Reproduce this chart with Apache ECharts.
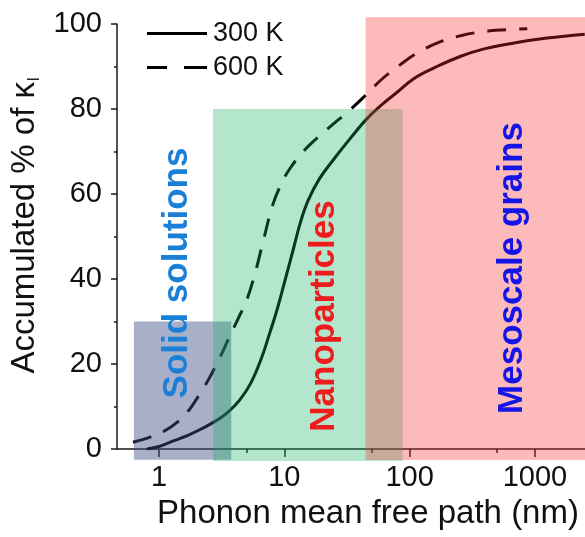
<!DOCTYPE html>
<html>
<head>
<meta charset="utf-8">
<script src="https://cdn.jsdelivr.net/npm/echarts@6/dist/echarts.min.js"></script>
<style>
html,body{margin:0;padding:0;background:#fff;}
#c{width:585px;height:537px;}
</style>
</head>
<body>
<div id="c"></div>
<script>
// ---- data ----
const mfp300 = [0.80, 1.0, 1.3, 1.7, 2.2, 2.8, 3.5, 4.4, 5.4, 6.5, 7.6, 8.8, 10.2, 11.8, 13.5, 15.5, 19, 25, 33, 45, 60, 80, 110, 160, 250, 400, 700, 1250, 2500];
const acc300 = [0, 0.6, 1.9, 3.2, 4.8, 6.5, 8.5, 11.5, 15.5, 21, 27, 33, 40, 47, 53.5, 58.5, 63.5, 68.3, 72.8, 77.5, 81, 84, 87.3, 89.8, 92.3, 94.2, 95.6, 96.7, 97.6];
const mfp600 = [0.62, 0.85, 1.1, 1.4, 1.75, 2.1, 2.5, 3.0, 3.6, 4.3, 5.0, 5.8, 6.8, 8.1, 9.5, 11.1, 14, 18, 24, 32, 42, 60, 85, 120, 175, 260, 364, 550, 870];
const acc600 = [1.6, 2.8, 4.2, 6.3, 9.3, 12.8, 16.5, 21, 26, 30.8, 35, 41, 49, 57.5, 62.5, 66, 69.8, 73, 76.2, 79.3, 82.5, 87, 90.5, 93.5, 95.8, 97.3, 98.1, 98.6, 98.9];
const seriesNames = ['300 K', '600 K'];
// shaded regimes: [x from, x to, y from, y to]
const regionNames = ['Solid solutions', 'Nanoparticles', 'Mesoscale grains'];
const regionX0 = [0.63, 2.7, 44.5];
const regionX1 = [3.77, 88, 4000];
const regionY0 = [-2.5, -2.8, -2.6];
const regionY1 = [30, 80, 101.6];
const xTickLabels = [1, 10, 100, 1000];
const xMinorTicks = [5, 50, 500];
const yTicks = [0, 20, 40, 60, 80, 100];
const xMin = 0.462, xMax = 2512;

const FONT = '"Liberation Sans", Arial, Helvetica, sans-serif';
const regionColors = ['rgba(62,77,133,0.45)', 'rgba(20,177,96,0.32)', 'rgba(250,40,40,0.32)'];
const labelColors = ['#1a7fd6', '#ee1c1c', '#1414e6'];
const dashPattern = [19, 13];

const chart = echarts.init(document.getElementById('c'), null, {renderer: 'canvas'});

const pairs = (xs, ys) => xs.map((x, i) => [x, ys[i]]);
const regionData = regionX0.map((x0, i) => [x0, regionX1[i], regionY0[i], regionY1[i], i]);

const axisColor = '#1a1a1a';

chart.setOption({
  animation: false,
  backgroundColor: '#fff',
  grid: {left: 117, right: 0, top: 24, bottom: 88, containLabel: false},
  legend: {
    data: [
      {name: seriesNames[0], icon: 'path://M0,0H60V3H0Z', itemStyle: {color: '#000', opacity: 1}},
      {name: seriesNames[1], icon: 'path://M0,0H20V3H0Z M37,0H60V3H37Z', itemStyle: {color: '#000', opacity: 1}}
    ],
    orient: 'vertical',
    left: 147, top: 20,
    padding: 0,
    itemWidth: 60, itemHeight: 3, itemGap: 7,
    textStyle: {fontFamily: FONT, fontSize: 27, color: '#111', padding: [0, 0, 0, 1]},
    selectedMode: false
  },
  xAxis: [{
    type: 'log', logBase: 10, min: xMin, max: xMax,
    name: 'Phonon mean free path (nm)',
    nameLocation: 'middle', nameGap: 48,
    nameTextStyle: {fontFamily: FONT, fontSize: 33, color: '#111', padding: [0, 0, 0, 34]},
    axisLine: {show: true, onZero: false, lineStyle: {color: axisColor, width: 1.5}},
    axisTick: {show: true, inside: false, length: 8, lineStyle: {color: axisColor, width: 1.5}},
    axisLabel: {
      fontFamily: FONT, fontSize: 29, color: '#111', margin: 14,
      showMinLabel: false, showMaxLabel: false,
      formatter: v => (xTickLabels.indexOf(Math.round(v)) >= 0 ? String(Math.round(v)) : '')
    },
    splitLine: {show: false}, minorTick: {show: false}
  }, {
    type: 'value', min: Math.log10(xMin), max: Math.log10(xMax),
    position: 'bottom',
    axisLine: {show: false, onZero: false},
    axisLabel: {show: false},
    splitLine: {show: false},
    axisTick: {show: true, length: 4, customValues: xMinorTicks.map(v => Math.log10(v)), lineStyle: {color: axisColor, width: 1.5}}
  }],
  yAxis: {
    type: 'value', min: 0, max: 100, interval: 20,
    name: '{a|Accumulated % of κ}{s|l}',
    nameLocation: 'middle', nameGap: 62,
    nameTextStyle: {
      fontFamily: FONT, color: '#111', padding: [0, 0, 0, 22],
      rich: {
        a: {fontFamily: FONT, fontSize: 33, color: '#111'},
        s: {fontFamily: FONT, fontSize: 16, color: '#111', padding: [20, 0, 0, 1]}
      }
    },
    axisLine: {show: true, onZero: false, lineStyle: {color: axisColor, width: 1.5}},
    axisTick: {show: true, length: 6, lineStyle: {color: axisColor, width: 1.5}},
    minorTick: {show: true, splitNumber: 2, length: 3, lineStyle: {color: axisColor, width: 1.5}},
    axisLabel: {fontFamily: FONT, fontSize: 29, color: '#111', margin: 15,
      formatter: v => (yTicks.indexOf(v) >= 0 ? String(v) : '')},
    splitLine: {show: false}
  },
  series: [{
    name: seriesNames[0], type: 'line', data: pairs(mfp300, acc300),
    smooth: 0.4, symbol: 'none', showSymbol: false, z: 2,
    lineStyle: {color: '#000', width: 3, type: 'solid'},
    itemStyle: {color: '#000'}
  }, {
    name: seriesNames[1], type: 'line', data: pairs(mfp600, acc600),
    smooth: 0.4, symbol: 'none', showSymbol: false, z: 2,
    lineStyle: {color: '#000', width: 3, type: dashPattern, cap: 'butt'},
    itemStyle: {color: '#000'}
  }, {
    name: 'regions', type: 'custom', clip: false, z: 5, silent: true,
    data: regionData,
    encode: {x: [0, 1], y: [2, 3]},
    renderItem: function (params, api) {
      const i = api.value(4);
      const p0 = api.coord([api.value(0), api.value(3)]);
      const p1 = api.coord([api.value(1), api.value(2)]);
      return {
        type: 'rect',
        z2: i,
        shape: {x: p0[0], y: p0[1], width: p1[0] - p0[0], height: p1[1] - p0[1]},
        style: {fill: regionColors[i]}
      };
    }
  }],
  graphic: [
    {type: 'text', x: 177, y: 273, rotation: Math.PI / 2, z: 100,
      style: {text: regionNames[0], font: 'bold 35px ' + FONT, fill: labelColors[0], align: 'center', verticalAlign: 'middle'}},
    {type: 'text', x: 324, y: 316, rotation: Math.PI / 2, z: 100,
      style: {text: regionNames[1], font: 'bold 35px ' + FONT, fill: labelColors[1], align: 'center', verticalAlign: 'middle'}},
    {type: 'text', x: 512, y: 268, rotation: Math.PI / 2, z: 100,
      style: {text: regionNames[2], font: 'bold 35px ' + FONT, fill: labelColors[2], align: 'center', verticalAlign: 'middle'}}
  ]
});
</script>
</body>
</html>
